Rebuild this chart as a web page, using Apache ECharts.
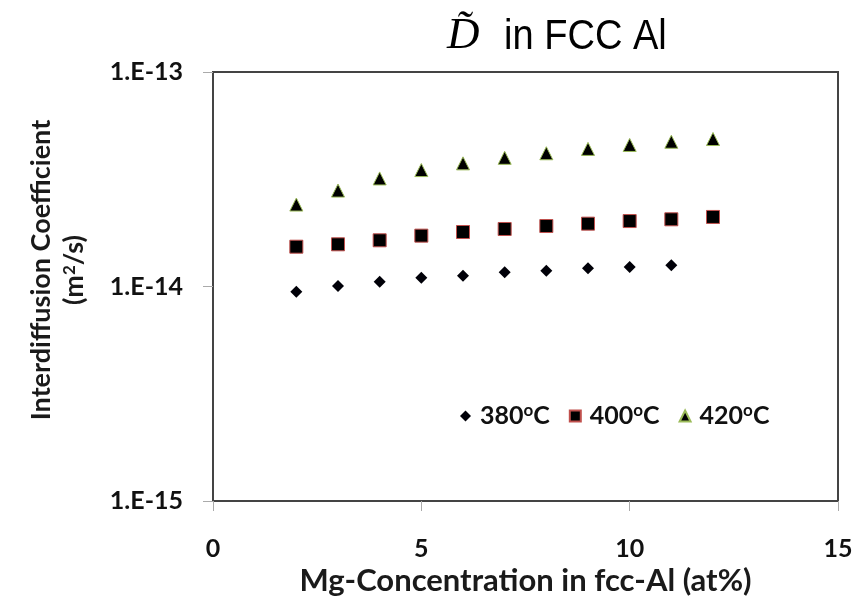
<!DOCTYPE html>
<html><head><meta charset="utf-8">
<script src="https://cdn.jsdelivr.net/npm/echarts@6/dist/echarts.min.js"></script>
<style>html,body{margin:0;padding:0;background:#fff}#c{width:858px;height:608px}</style>
</head><body><div id="c"></div>
<script>
// Data
const conc380 = [2, 3, 4, 5, 6, 7, 8, 9, 10, 11];
const d380 = [9.46e-15, 1.005e-14, 1.053e-14, 1.099e-14, 1.123e-14, 1.164e-14, 1.185e-14, 1.216e-14, 1.233e-14, 1.255e-14];
const conc400 = [2, 3, 4, 5, 6, 7, 8, 9, 10, 11, 12];
const d400 = [1.533e-14, 1.573e-14, 1.642e-14, 1.726e-14, 1.795e-14, 1.854e-14, 1.914e-14, 1.963e-14, 2.019e-14, 2.057e-14, 2.11e-14];
const conc420 = [2, 3, 4, 5, 6, 7, 8, 9, 10, 11, 12];
const d420 = [2.41e-14, 2.80e-14, 3.19e-14, 3.49e-14, 3.75e-14, 3.98e-14, 4.18e-14, 4.38e-14, 4.57e-14, 4.73e-14, 4.87e-14];
const temps = ['380', '400', '420'];
const xMin = 0, xMax = 15, xStep = 5;
const yMin = 1e-15, yMax = 1e-13;

const FONT = 'Lato, "Open Sans", sans-serif';
const zip = (xs, ys) => xs.map((x, i) => [x, ys[i]]);

const chart = echarts.init(document.getElementById('c'), null, {renderer: 'canvas'});
chart.setOption({
  animation: false,
  backgroundColor: '#fff',
  grid: {left: 213, right: 20, top: 72, bottom: 107, show: true, borderColor: '#444', borderWidth: 2, backgroundColor: 'transparent'},
  graphic: [
    {type: 'text', x: 447, y: 36, style: {
      text: 'D\u0303', fontFamily: '"Liberation Serif", "DejaVu Serif", serif', fontStyle: 'italic', fontSize: 45,
      fill: '#000', align: 'left', verticalAlign: 'middle'
    }},
    {type: 'text', x: 504, y: 37, scaleX: 0.885, style: {
      text: 'in FCC Al', fontFamily: '"Liberation Sans", Arial, sans-serif', fontSize: 43,
      fill: '#000', align: 'left', verticalAlign: 'middle'
    }},
    {type: 'text', x: 58, y: 270, rotation: Math.PI / 2, style: {
      text: '{a|Interdiffusion Coefficient}\n{a|(m}{s|2}{a|/s)}',
      align: 'center', verticalAlign: 'middle',
      rich: {
        a: {fontFamily: FONT, fontWeight: 'bold', fontSize: 27, lineHeight: 33, fill: '#1a1a1a'},
        s: {fontFamily: FONT, fontWeight: 'bold', fontSize: 17, lineHeight: 33, verticalAlign: 'top', padding: [3, 0, 0, 0], fill: '#1a1a1a'}
      }
    }}
  ],
  legend: {
    left: 455, top: 397, itemWidth: 11, itemHeight: 11, itemGap: 19,
    data: temps,
    formatter: n => '{a|' + n + '}{s|o}{a|C}',
    textStyle: {
      padding: [0, 0, 0, 4],
      rich: {
        a: {fontFamily: FONT, fontWeight: 'bold', fontSize: 25, color: '#111', lineHeight: 28},
        s: {fontFamily: FONT, fontWeight: 'bold', fontSize: 17, color: '#111', verticalAlign: 'top', lineHeight: 17}
      }
    }
  },
  xAxis: {
    type: 'value', min: xMin, max: xMax, interval: xStep,
    name: 'Mg-Concentration in fcc-Al (at%)', nameLocation: 'middle', nameGap: 61,
    nameTextStyle: {fontFamily: FONT, fontWeight: 'bold', fontSize: 31, color: '#1a1a1a'},
    axisLine: {show: true, lineStyle: {color: '#444', width: 2}},
    axisTick: {show: true, length: 10, lineStyle: {color: '#aaa', width: 1}},
    axisLabel: {margin: 35, fontFamily: FONT, fontWeight: 'bold', fontSize: 25, color: '#111'},
    splitLine: {show: false}
  },
  yAxis: {
    type: 'log', logBase: 10, min: yMin, max: yMax,
    axisLine: {show: true, lineStyle: {color: '#444', width: 2}},
    axisTick: {show: true, length: 10, lineStyle: {color: '#aaa', width: 1}},
    minorTick: {show: false},
    axisLabel: {margin: 30, fontFamily: FONT, fontWeight: 'bold', fontSize: 25, color: '#111',
      formatter: v => '1.E' + Math.round(Math.log10(v))},
    splitLine: {show: false}
  },
  series: [
    {name: temps[0], type: 'scatter', symbol: 'diamond', symbolSize: 12, data: zip(conc380, d380),
      itemStyle: {color: '#000008', borderWidth: 0, opacity: 1}},
    {name: temps[1], type: 'scatter', symbol: 'rect', symbolSize: 13, data: zip(conc400, d400),
      itemStyle: {color: '#000', borderColor: '#c0504d', borderWidth: 1, opacity: 1}},
    {name: temps[2], type: 'scatter', symbol: 'triangle', symbolSize: 13, data: zip(conc420, d420),
      itemStyle: {color: '#000', borderColor: '#9bbb59', borderWidth: 1, opacity: 1}}
  ]
});
</script>
</body></html>
